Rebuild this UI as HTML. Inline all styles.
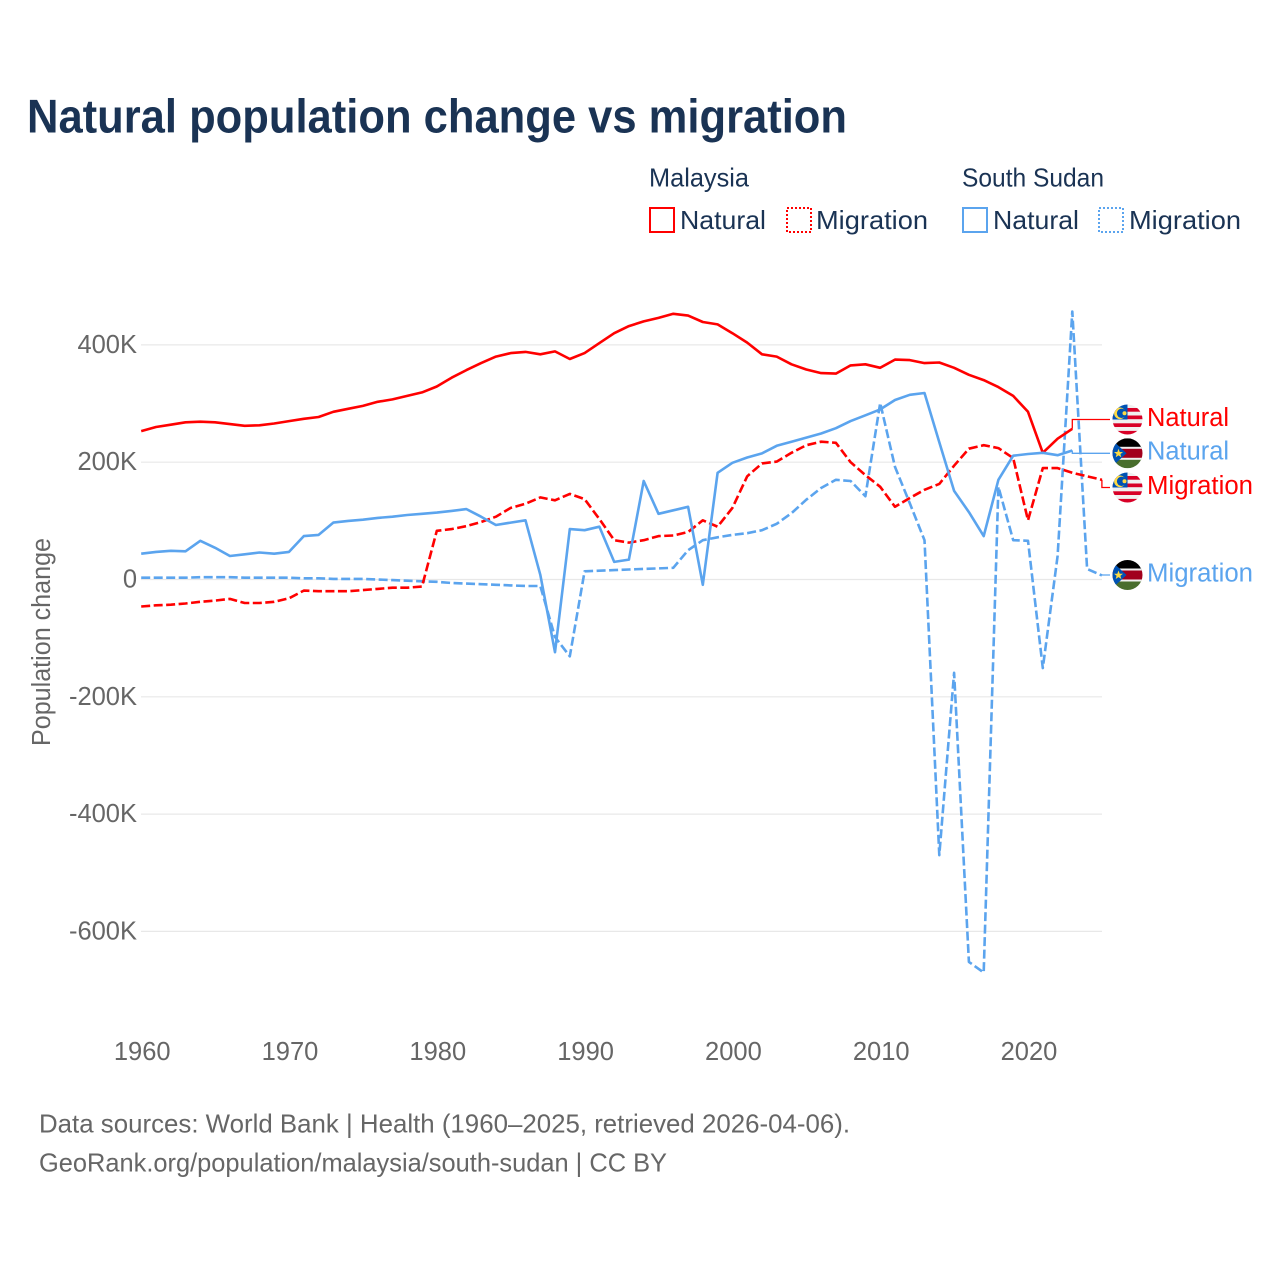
<!DOCTYPE html>
<html lang="en">
<head>
<meta charset="utf-8">
<title>Natural population change vs migration</title>
<style>
html,body{margin:0;padding:0;background:#fff;}
svg{display:block;font-family:"Liberation Sans",sans-serif;}
.navy{fill:#1a3354;}
.grey{fill:#666;}
</style>
</head>
<body>
<svg id="chart" xmlns="http://www.w3.org/2000/svg" width="1280" height="1280" viewBox="0 0 1280 1280">
  <defs>
    <clipPath id="flag-clip"><circle cx="0" cy="0" r="15"/></clipPath>
  </defs>
  <rect x="0" y="0" width="1280" height="1280" fill="#fff"/>
  <text class="navy" x="27" y="132.5" font-size="47.5" font-weight="700" textLength="820" lengthAdjust="spacingAndGlyphs">Natural population change vs migration</text>

  <g font-size="26">
    <text class="navy" x="649" y="186.5" textLength="100" lengthAdjust="spacingAndGlyphs">Malaysia</text>
    <text class="navy" x="962" y="186.5" textLength="142" lengthAdjust="spacingAndGlyphs">South Sudan</text>
    <rect x="650" y="208" width="24" height="24" fill="none" stroke="#ff0000" stroke-width="2"/>
    <text class="navy" x="680" y="229" textLength="86" lengthAdjust="spacingAndGlyphs">Natural</text>
    <rect x="787" y="208" width="24" height="24" fill="none" stroke="#ff0000" stroke-width="2" stroke-dasharray="2 2"/>
    <text class="navy" x="816" y="229" textLength="112" lengthAdjust="spacingAndGlyphs">Migration</text>
    <rect x="963" y="208" width="24" height="24" fill="none" stroke="#5ba4ee" stroke-width="2"/>
    <text class="navy" x="993" y="229" textLength="86" lengthAdjust="spacingAndGlyphs">Natural</text>
    <rect x="1099" y="208" width="24" height="24" fill="none" stroke="#5ba4ee" stroke-width="2" stroke-dasharray="2 2"/>
    <text class="navy" x="1129" y="229" textLength="112" lengthAdjust="spacingAndGlyphs">Migration</text>
  </g>

  <g id="grid"></g>
  <g id="y-ticks"></g>
  <g id="x-ticks"></g>
  <text class="grey" transform="translate(50 642) rotate(-90)" text-anchor="middle" font-size="25.5" textLength="208" lengthAdjust="spacingAndGlyphs">Population change</text>
  <g id="series"></g>
  <g id="labels"></g>

  <text class="grey" x="39" y="1132.5" font-size="26" textLength="811" lengthAdjust="spacingAndGlyphs">Data sources: World Bank | Health (1960–2025, retrieved 2026-04-06).</text>
  <text class="grey" x="39" y="1171.5" font-size="26" textLength="628" lengthAdjust="spacingAndGlyphs">GeoRank.org/population/malaysia/south-sudan | CC BY</text>
</svg>
<script>
const years = [1960,1961,1962,1963,1964,1965,1966,1967,1968,1969,1970,1971,1972,1973,1974,1975,1976,1977,1978,1979,1980,1981,1982,1983,1984,1985,1986,1987,1988,1989,1990,1991,1992,1993,1994,1995,1996,1997,1998,1999,2000,2001,2002,2003,2004,2005,2006,2007,2008,2009,2010,2011,2012,2013,2014,2015,2016,2017,2018,2019,2020,2021,2022,2023,2024,2025];
const xTickLabels = [1960,1970,1980,1990,2000,2010,2020];
const yTickLabels = [400,200,0,-200,-400,-600];
const malaysiaNatural = [253,260,264,268,269,268,265,262,263,266,270,274,277,286,291,296,303,307,313,319,329,344,357,369,380,386,388,384,389,376,386,403,420,432,440,446,453,450,439,435,420,404,384,380,367,358,352,351,365,367,361,375,374,369,370,361,349,340,328,313,286,216,240,257];
const malaysiaMigration = [-46,-44,-43,-41,-38,-36,-33,-40,-40,-38,-32,-19,-20,-20,-20,-18,-16,-14,-14,-12,83,86,91,98,107,122,129,140,135,146,137,103,67,63,67,74,75,81,101,90,122,176,198,201,216,229,235,233,200,178,158,124,139,153,163,194,223,229,224,207,101,190,190,182,176,170];
const sudanNatural = [44,47,49,48,66,54,40,43,46,44,47,74,76,97,100,102,105,107,110,112,114,117,120,107,93,97,101,8,-124,86,84,90,30,34,168,112,118,124,-9,182,199,208,215,228,235,242,249,258,270,280,290,306,315,318,234,151,115,74,170,211,214,216,212,220];
const sudanMigration = [3,3,3,3,4,4,4,3,3,3,3,2,2,1,1,1,0,-1,-2,-3,-4,-6,-7,-8,-9,-10,-11,-11,-98,-131,14,15,16,17,18,19,20,50,67,72,76,79,84,95,113,136,156,170,168,142,301,192,130,67,-470,-159,-652,-670,158,67,66,-151,40,457,18,7];

const NS = 'http://www.w3.org/2000/svg';
const RED = '#ff0000';
const BLUE = '#5ba4ee';
function xScale(year){ return 141.2 + (year - 1960) * 14.78; }
function yScale(v){ return 579.5 - v * 0.5865; }
function mk(tag, attrs, parent){
  const el = document.createElementNS(NS, tag);
  for (const k in attrs) el.setAttribute(k, attrs[k]);
  parent.appendChild(el);
  return el;
}
function tickText(v){ return v === 0 ? '0' : v + 'K'; }

const gridG = document.getElementById('grid');
const yG = document.getElementById('y-ticks');
const xG = document.getElementById('x-ticks');
const seriesG = document.getElementById('series');
const labelsG = document.getElementById('labels');

yTickLabels.forEach(function(v){
  const line = mk('line', {x1:141, x2:1102, y1:yScale(v), y2:yScale(v), stroke:'#e8e8e8', 'stroke-width':1.2}, gridG);
  
  
  const t = mk('text', {x:137, y:yScale(v)+8, 'text-anchor':'end', 'font-size':25.5, class:'grey'}, yG);
  
  
  t.textContent = tickText(v);
});
xTickLabels.forEach(function(y){
  const t = mk('text', {x:xScale(y)+1, y:1060, 'text-anchor':'middle', 'font-size':25.5, class:'grey'}, xG);
  
  
  t.textContent = y;
});

function drawMalaysiaFlag(g){
  mk('circle', {cx:0, cy:0, r:15, fill:'#f0f0f0'}, g);
  const stripes = [-11.5,-4,3.8,11.4];
  stripes.forEach(function(sy){ mk('rect', {x:-15, y:sy, width:30, height:3.7, fill:'#d80027'}, g); });
  mk('rect', {x:-15, y:-15, width:15, height:15, fill:'#0052b4'}, g);
  mk('circle', {cx:-7.6, cy:-6.2, r:5.8, fill:'#ffda44'}, g);
  mk('circle', {cx:-5.9, cy:-6.2, r:4.7, fill:'#0052b4'}, g);
  mk('circle', {cx:-3, cy:-6.2, r:2, fill:'#ffda44'}, g);
}
function drawSudanFlag(g){
  mk('rect', {x:-15, y:-15, width:30, height:10, fill:'#000'}, g);
  mk('rect', {x:-15, y:-5, width:30, height:10, fill:'#a2001d'}, g);
  mk('rect', {x:-15, y:5, width:30, height:10, fill:'#496e2d'}, g);
  mk('rect', {x:-15, y:-6.5, width:30, height:2, fill:'#f0f0f0'}, g);
  mk('rect', {x:-15, y:4.5, width:30, height:2, fill:'#f0f0f0'}, g);
  mk('polygon', {points:'-15,-13 -1,0 -15,13', fill:'#0052b4'}, g);
  mk('polygon', {points:'-9,-4.5 -7.8,-1.3 -4.5,-1.3 -7.1,0.8 -6.2,4 -9,2.1 -11.8,4 -10.9,0.8 -13.5,-1.3 -10.2,-1.3', fill:'#ffda44'}, g);
}

function drawSeries(values, color, dashed, labelY, text, drawFlag, seriesName, labelName){
  const d = values.map(function(v,i){ return (i?'L':'M') + xScale(years[i]).toFixed(1) + ' ' + yScale(v).toFixed(1); }).join(' ');
  const path = mk('path', {d:d, fill:'none', stroke:color, 'stroke-width':2.6, 'stroke-linejoin':'round'}, seriesG);
  if (dashed) path.setAttribute('stroke-dasharray', '9 3.5');
  
  
  const last = values.length - 1;
  const lx = xScale(years[last]);
  const ly = yScale(values[last]);
  const leader = mk('path', {d:'M'+lx.toFixed(1)+' '+ly.toFixed(1)+' L'+lx.toFixed(1)+' '+labelY+' L1110 '+labelY, fill:'none', stroke:color, 'stroke-width':1.3}, seriesG);
  
  
  const flag = mk('g', {transform:'translate(1127.5 '+labelY+')', 'clip-path':'url(#flag-clip)'}, labelsG);
  
  
  drawFlag(flag);
  const t = mk('text', {x:1147, y:labelY+6.3, fill:color, 'font-size':25.5, textLength:text === 'Natural' ? 82 : 106, lengthAdjust:'spacingAndGlyphs'}, labelsG);
  
  
  t.textContent = text;
}
drawSeries(sudanMigration, BLUE, true, 575, 'Migration', drawSudanFlag, 'line-south-sudan-migration', 'south-sudan-migration');
drawSeries(malaysiaMigration, RED, true, 487.5, 'Migration', drawMalaysiaFlag, 'line-malaysia-migration', 'malaysia-migration');
drawSeries(malaysiaNatural, RED, false, 419.5, 'Natural', drawMalaysiaFlag, 'line-malaysia-natural', 'malaysia-natural');
drawSeries(sudanNatural, BLUE, false, 453.3, 'Natural', drawSudanFlag, 'line-south-sudan-natural', 'south-sudan-natural');
</script>
</body>
</html>
